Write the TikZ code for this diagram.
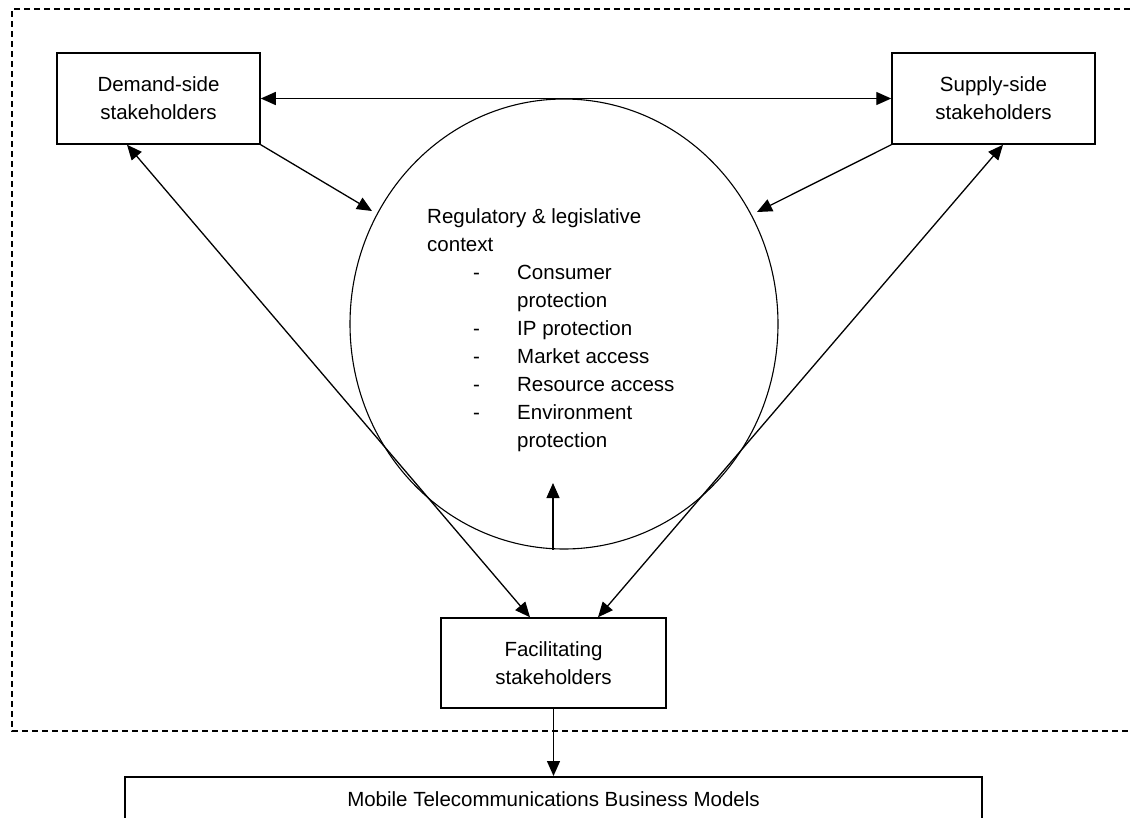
\documentclass[tikz,border=0pt]{standalone}
\usepackage{fontspec}
\setmainfont{Liberation Sans}
\usetikzlibrary{arrows.meta,shapes.geometric}
\tikzset{
  txt/.style={font=\fontsize{20.5}{28}\selectfont},
  stakebox/.style={draw, line width=1.5pt, align=center, inner sep=0pt, txt},
  tip/.style={-{Triangle[length=15pt,width=13pt]}},
  arr/.style={line width=1.3pt, tip},
  darr/.style={line width=1.3pt, {Triangle[length=15pt,width=13pt]}-{Triangle[length=15pt,width=13pt]}},
  frame/.style={line width=1.2pt, dash pattern=on 6pt off 4pt},
}
\newcommand{\itm}[1]{\makebox[90pt][l]{\hspace*{46pt}-}#1}
\newcommand{\cnt}[1]{\hspace*{90pt}#1}
\begin{document}
\begin{tikzpicture}[x=1pt,y=-1pt]
\useasboundingbox (0,0) rectangle (1130,817);
\clip (0,0) rectangle (1130,817);
\fill[white] (0,0) rectangle (1130,817);
% dashed frame
\draw[frame] (1150,9) -- (12,9) -- (12,731) -- (1150,731);
% circle
\node[draw, ellipse, line width=1.1pt, minimum width=428pt, minimum height=450pt, inner sep=0pt] (reg) at (564,324) {};
\node[txt, align=left, anchor=north west, inner sep=0pt] (regtext) at (427,208)
 {Regulatory \& legislative\\context\\\itm{Consumer}\\\cnt{protection}\\\itm{IP protection}\\\itm{Market access}\\\itm{Resource access}\\\itm{Environment}\\\cnt{protection}};
% boxes
\node[stakebox, minimum width=203pt, minimum height=91pt] (demand) at (158.5,98.5) {Demand-side\\stakeholders};
\node[stakebox, minimum width=203pt, minimum height=91pt] (supply) at (993.5,98.5) {Supply-side\\stakeholders};
\node[stakebox, minimum width=225pt, minimum height=90pt] (fac) at (553.5,663) {Facilitating\\stakeholders};
\node[stakebox, minimum width=857pt, minimum height=45pt, anchor=north] (mtbm) at (553.5,776) {Mobile Telecommunications Business Models};
% tip coordinates
\coordinate (dtip) at (372,211);
\coordinate (stip) at (757,212);
\coordinate (itip) at (553,483);
% connectors
\draw[darr] (demand.east) -- (supply.west);
\draw[arr] (demand.south east) -- (dtip);
\draw[arr] (supply.south west) -- (stip);
\draw[darr] ([xshift=-31.5pt]demand.south) -- ([xshift=-23.5pt]fac.north);
\draw[darr] ([xshift=9.5pt]supply.south) -- ([xshift=44.5pt]fac.north);
\draw[arr] ([xshift=-11pt]reg.south) -- (itip);
\draw[arr] (fac.south) -- (mtbm.north);
\end{tikzpicture}
\end{document}
